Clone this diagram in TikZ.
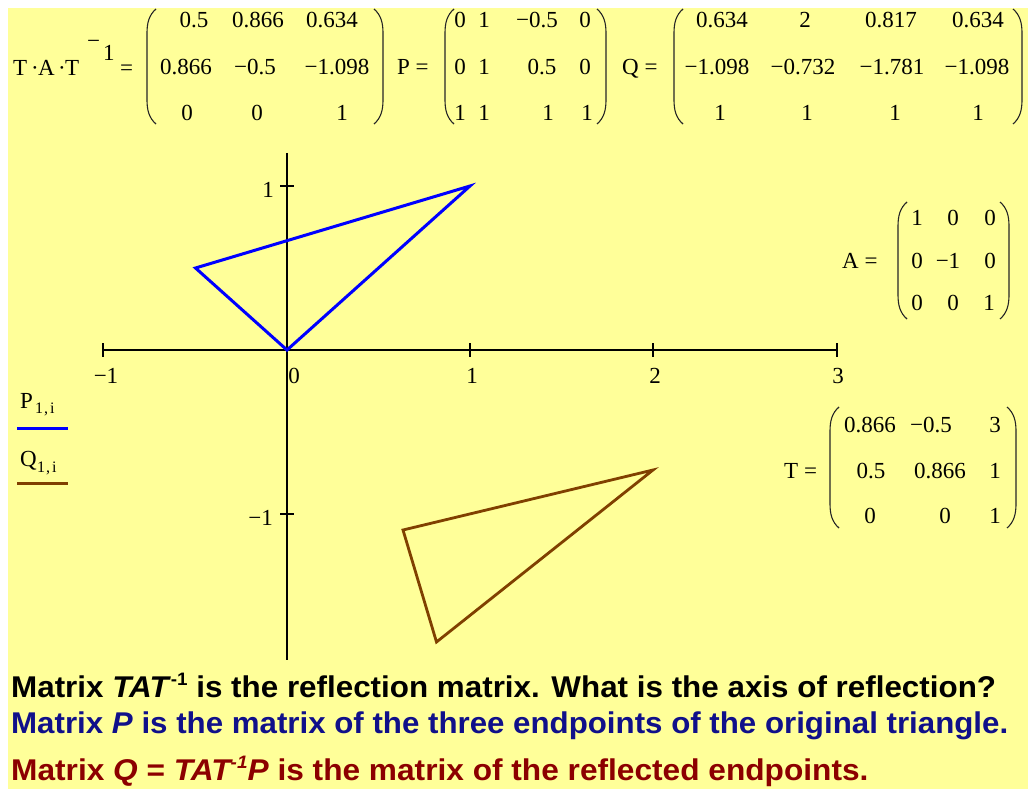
\documentclass[tikz,border=0pt]{standalone}
\usepackage{fontspec}
\setmainfont{Liberation Serif}
\newfontfamily\sansfam{Liberation Sans}
\definecolor{bgyellow}{HTML}{FFFF99}
\definecolor{qbrown}{HTML}{804000}
\definecolor{pblue}{HTML}{0000FF}
\definecolor{navytxt}{HTML}{10108A}
\definecolor{redtxt}{HTML}{8C0000}
\newcommand\mfont{\fontsize{23}{27}\selectfont}
\newcommand\sfont{\fontsize{16}{18}\selectfont}
\newcommand\bfont{\sansfam\bfseries\fontsize{30}{34}\selectfont}
\newcommand\supm[1]{\raisebox{0.38em}{\fontsize{18}{18}\selectfont #1}}
\tikzset{
  ent/.style={anchor=base, inner sep=0pt, font=\mfont},
  lab/.style={anchor=base west, inner sep=0pt, font=\mfont},
  parenline/.style={line width=1.1pt, draw=black!85},
  axisline/.style={line width=1.3pt, draw=black},
  btxt/.style={anchor=base west, inner sep=0pt, font=\bfont},
}
\newcommand\mylpar[3]{\draw[parenline] ({#1+9},#2) .. controls ({#1+2},{#2+6}) and (#1,{#2+14}) .. (#1,{#2+24}) -- (#1,{#3-24}) .. controls (#1,{#3-14}) and ({#1+2},{#3-6}) .. ({#1+9},#3);}
\newcommand\myrpar[3]{\draw[parenline] ({#1-9},#2) .. controls ({#1-2},{#2+6}) and (#1,{#2+14}) .. (#1,{#2+24}) -- (#1,{#3-24}) .. controls (#1,{#3-14}) and ({#1-2},{#3-6}) .. ({#1-9},#3);}
\begin{document}
\begin{tikzpicture}[x=1pt,y=-1pt]
\useasboundingbox (0,0) rectangle (1028,789);
\fill[white] (0,0) rectangle (1028,789);
\fill[bgyellow] (8,8) rectangle (1028,789);

% ---- T.A.T^-1 = matrix
\node[lab] (t1) at (13,76) {T};
\node[lab] (d1) at (31,76) {·};
\node[lab] (a1) at (38,76) {A};
\node[lab] (d2) at (58,76) {·};
\node[lab] (t2) at (65,76) {T};
\node[lab] (e1) at (87,49) {−};
\node[lab] (e2) at (103,61) {1};
\node[lab] (eq1) at (120,76) {=};
\mylpar{147}{9}{124}
\myrpar{383}{9}{124}
\node[ent] (m11) at (194,28) {0.5};
\node[ent] (m12) at (258,28) {0.866};
\node[ent] (m13) at (332,28) {0.634};
\node[ent] (m21) at (186,75) {0.866};
\node[ent] (m22) at (255,75) {−0.5};
\node[ent] (m23) at (337,75) {−1.098};
\node[ent] (m31) at (187,121) {0};
\node[ent] (m32) at (257,121) {0};
\node[ent] (m33) at (342,121) {1};

% ---- P matrix
\node[lab] (pl) at (397,75) {P =};
\mylpar{445}{9}{124}
\myrpar{606}{9}{124}
\node[ent] (p11) at (460,28) {0};
\node[ent] (p12) at (484,28) {1};
\node[ent] (p13) at (537,28) {−0.5};
\node[ent] (p14) at (585,28) {0};
\node[ent] (p21) at (460,75) {0};
\node[ent] (p22) at (484,75) {1};
\node[ent] (p23) at (542,75) {0.5};
\node[ent] (p24) at (585,75) {0};
\node[ent] (p31) at (460,121) {1};
\node[ent] (p32) at (484,121) {1};
\node[ent] (p33) at (548,121) {1};
\node[ent] (p34) at (587,121) {1};

% ---- Q matrix
\node[lab] (ql) at (622,75) {Q =};
\mylpar{674}{9}{124}
\myrpar{1022}{9}{124}
\node[ent] (q11) at (722,28) {0.634};
\node[ent] (q12) at (805,28) {2};
\node[ent] (q13) at (891,28) {0.817};
\node[ent] (q14) at (978,28) {0.634};
\node[ent] (q21) at (717,75) {−1.098};
\node[ent] (q22) at (803,75) {−0.732};
\node[ent] (q23) at (892,75) {−1.781};
\node[ent] (q24) at (977,75) {−1.098};
\node[ent] (q31) at (720,121) {1};
\node[ent] (q32) at (807,121) {1};
\node[ent] (q33) at (895,121) {1};
\node[ent] (q34) at (978,121) {1};

% ---- A matrix
\node[lab] (al) at (842,268) {A =};
\mylpar{898}{202}{319}
\myrpar{1009}{202}{319}
\node[ent] (a11) at (917,225) {1};
\node[ent] (a12) at (953,225) {0};
\node[ent] (a13) at (990,225) {0};
\node[ent] (a21) at (917,268) {0};
\node[ent] (a22) at (948,268) {−1};
\node[ent] (a23) at (990,268) {0};
\node[ent] (a31) at (917,310) {0};
\node[ent] (a32) at (953,310) {0};
\node[ent] (a33) at (989,310) {1};

% ---- T matrix
\node[lab] (tl) at (784,478) {T =};
\mylpar{830}{407}{528}
\myrpar{1016}{407}{528}
\node[ent] (t11) at (870,432) {0.866};
\node[ent] (t12) at (931,432) {−0.5};
\node[ent] (t13) at (995,432) {3};
\node[ent] (t21) at (871,478) {0.5};
\node[ent] (t22) at (940,478) {0.866};
\node[ent] (t23) at (995,478) {1};
\node[ent] (t31) at (870,523) {0};
\node[ent] (t32) at (945,523) {0};
\node[ent] (t33) at (995,523) {1};

% ---- axes
\coordinate (xl) at (103,350);
\coordinate (xr) at (837,350);
\coordinate (yt) at (287,153);
\coordinate (yb) at (287,660);
\draw[axisline] (xl) -- (xr);
\draw[axisline] (yt) -- (yb);
\foreach \xx in {103,470,653,837} \draw[axisline] (\xx,343) -- (\xx,357);
\foreach \yy in {186,514} \draw[axisline] (280,\yy) -- (294,\yy);
\node[ent] (xlm1) at (106,383) {−1};
\node[ent] (xl0) at (294,383) {0};
\node[ent] (xl1) at (472,383) {1};
\node[ent] (xl2) at (655,383) {2};
\node[ent] (xl3) at (838,383) {3};
\node[ent, anchor=base east] (yl1) at (274,197) {1};
\node[ent, anchor=base east] (ylm1) at (273,525) {−1};

% ---- triangles
\coordinate (P1) at (287,350);
\coordinate (P2) at (470,186);
\coordinate (P3) at (195.5,268);
\coordinate (Q1) at (403,530);
\coordinate (Q2) at (653,470);
\coordinate (Q3) at (436.5,642);
\draw[pblue, line width=3pt, line join=miter] (P1) -- (P2) -- (P3) -- cycle;
\draw[qbrown, line width=2.8pt, line join=miter] (Q1) -- (Q2) -- (Q3) -- cycle;

% ---- legend
\node[lab] (lp) at (20,408) {P};
\node[anchor=base west, inner sep=0pt, font=\sfont] (lps) at (35,413) {1\kern1pt,\kern2pt i};
\coordinate (lpa) at (17,428);
\coordinate (lpb) at (68,428);
\draw[pblue, line width=3pt] (lpa) -- (lpb);
\node[lab] (lq) at (20,466) {Q};
\node[anchor=base west, inner sep=0pt, font=\sfont] (lqs) at (37,472) {1\kern1pt,\kern2pt i};
\coordinate (lqa) at (17,483);
\coordinate (lqb) at (68,483);
\draw[qbrown, line width=3pt] (lqa) -- (lqb);

% ---- bottom text
\node[btxt, text=black] (b1) at (11,697) {\scalebox{1.046}[1]{Matrix \textit{TAT}\supm{-1} is the reflection matrix. What is the axis of reflection?}};
\node[btxt, text=navytxt] (b2) at (11,733) {\scalebox{1.042}[1]{Matrix \textit{P} is the matrix of the three endpoints of the original triangle.}};
\node[btxt, text=redtxt] (b3) at (11,780) {\scalebox{1.055}[1]{Matrix \textit{Q} = \textit{TAT\supm{-1}P} is the matrix of the reflected endpoints.}};
\end{tikzpicture}
\end{document}
